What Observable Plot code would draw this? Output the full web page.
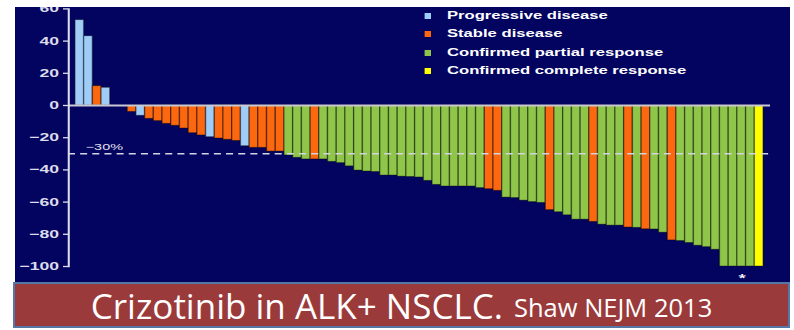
<!DOCTYPE html>
<html>
<head>
<meta charset="utf-8">
<script src="https://cdn.jsdelivr.net/npm/d3@7"></script>
<script src="https://cdn.jsdelivr.net/npm/@observablehq/plot@0.6"></script>
<style>
  html, body { margin: 0; padding: 0; background: #ffffff; }
  #page { position: relative; width: 794px; height: 330px; overflow: hidden; background: #ffffff; }
  #panel { position: absolute; left: 15px; top: 7px; width: 775px; height: 276px; background: #030360; overflow: hidden; }
  #stretch { position: absolute; left: 0; top: 0; transform: scaleX(1.6); transform-origin: 0 0; }
  #legend { position: absolute; left: 0; top: 0; font: bold 10.4px "Liberation Sans", Arial, sans-serif; color: #ffffff; }
  .lg-row { position: absolute; white-space: nowrap; line-height: 12px; }
  .lg-sw { position: absolute; width: 4.5px; height: 6px; top: 3px; }
  .lg-tx { position: absolute; top: 0; }
  #banner { position: absolute; left: 13px; top: 282px; width: 773px; height: 42px;
            background: #9a3a3b; border: 2px solid #5577a6; display: flex; align-items: center; justify-content: center;
            color: #ffffff; white-space: nowrap; line-height: 1; }
  #banner .big { font: 35px "Open Sans", sans-serif; }
  #banner .small { font: 25.5px "Open Sans", sans-serif; margin-left: 11px; position: relative; top: 2px; }
</style>
</head>
<body>
<div id="page">
  <div id="panel"><div id="stretch"><div id="legend"></div></div></div>
  <div id="banner"><span class="big">Crizotinib in ALK+ NSCLC.</span><span class="small">Shaw NEJM 2013</span></div>
</div>
<script>
// ---- data ----
const responses = ["Progressive disease", "Stable disease", "Confirmed partial response", "Confirmed complete response"];
const responseColors = ["#a0cdf8", "#fb6810", "#8fc64a", "#ffff00"];

// percent change from baseline in tumour size, one per patient (sorted)
const changes = [53, 43, 12, 11, 0, 0, -4, -6.4, -8.3, -9.7, -11.4, -12.6, -14.3, -17.2, -18.6,
  -19.7, -20.5, -21.3, -22, -25.3, -26.3, -26.3, -28.6, -28.6,
  -31, -32.5, -33.5, -33.5, -33.5, -35, -35.8,
  -37.8, -40.4, -41, -41.3, -43.5, -43.5, -44.2, -44.4, -44.7,
  -46.8, -49.3, -50.3, -50.3, -50.3, -50.3, -51.3,
  -52, -53, -57.2, -57.5, -59.1, -60, -60.5,
  -65, -66.3, -68.2, -70.9, -70.9, -72.3, -74, -74.6, -74.6, -75.8,
  -76, -76.9, -77, -79, -83.8, -84.2, -85.4, -87.1, -88, -89.6,
  -100, -100, -100, -100, -100];

// response code per patient: P progressive, S stable, R partial, C complete
const codes = "PPSPSSSPSSSSSSSPSSSPSSSSRRRSRRRRRRRRRRRRRRRRRRRSSRRRRRSRRRRSRRRSRSRRSRRRRRRRRRC";
const codeNames = {P: responses[0], S: responses[1], R: responses[2], C: responses[3]};

const yTicks = [-100, -80, -60, -40, -20, 0, 20, 40, 60];
const threshold = -30;
const thresholdLabel = "\u221230%";
const notes = [{patient: 77, label: "*"}];

const data = changes.map((v, i) => ({patient: i + 1, change: v, response: codeNames[codes[i]]}));
const patients = data.map(d => d.patient);

// ---- chart ----
const S = 1.6;               // horizontal stretch of the whole slide picture
const W = 775 / S;
const axisColor = "#dcdcea";

const chart = Plot.plot({
  width: W,
  height: 276,
  marginLeft: 33.1,
  marginRight: 12.5,
  marginTop: 1.4,
  marginBottom: 17,
  style: {background: "transparent", color: axisColor, overflow: "visible"},
  x: {domain: patients, paddingInner: 0, paddingOuter: 0.8, axis: null},
  y: {domain: [-100, 60], axis: null, label: null},
  color: {domain: responses, range: responseColors},
  marks: [
    Plot.barY(data, {x: "patient", y: "change", fill: "response", stroke: "#000000", strokeOpacity: 0.4, strokeWidth: 0.9}),
    Plot.ruleY([0], {stroke: "#c9c9d3", strokeWidth: 2}),
    Plot.ruleY([threshold], {stroke: "#d4d4e0", strokeWidth: 1.6, strokeDasharray: "4.4,3.2"}),
    Plot.text([thresholdLabel], {y: () => threshold, frameAnchor: "left", textAnchor: "start", dx: 10.6, dy: -7,
      fill: "#e4e4f0", fontSize: 9, fontFamily: "Liberation Sans, Arial, sans-serif"}),
    Plot.text(notes, {x: "patient", y: () => -100, text: "label", dy: 12, fill: "#ffffff", fontSize: 9, fontWeight: "bold"}),
    Plot.frame({anchor: "left", stroke: axisColor, strokeWidth: 1.3}),
    Plot.axisY({ticks: yTicks, label: null, tickSize: 3.1, tickPadding: 3, fontSize: 11, fontWeight: "bold",
      fontFamily: "Liberation Sans, Arial, sans-serif", strokeWidth: 1.3,
      tickFormat: d => d < 0 ? "\u2212" + Math.abs(d) : String(d)})
  ]
});
document.getElementById("stretch").appendChild(chart);

// ---- legend (inside the stretched slide) ----
const legend = document.getElementById("legend");
responses.forEach((name, i) => {
  const row = document.createElement("div");
  row.className = "lg-row";
  row.style.left = "255.6px";
  row.style.top = (3 + i * 18.3) + "px";
  const sw = document.createElement("span");
  sw.className = "lg-sw";
  sw.style.left = "0px";
  sw.style.background = responseColors[i];
  const tx = document.createElement("span");
  tx.className = "lg-tx";
  tx.style.left = "14.4px";
  tx.textContent = name;
  row.appendChild(sw);
  row.appendChild(tx);
  legend.appendChild(row);
});
</script>
</body>
</html>
